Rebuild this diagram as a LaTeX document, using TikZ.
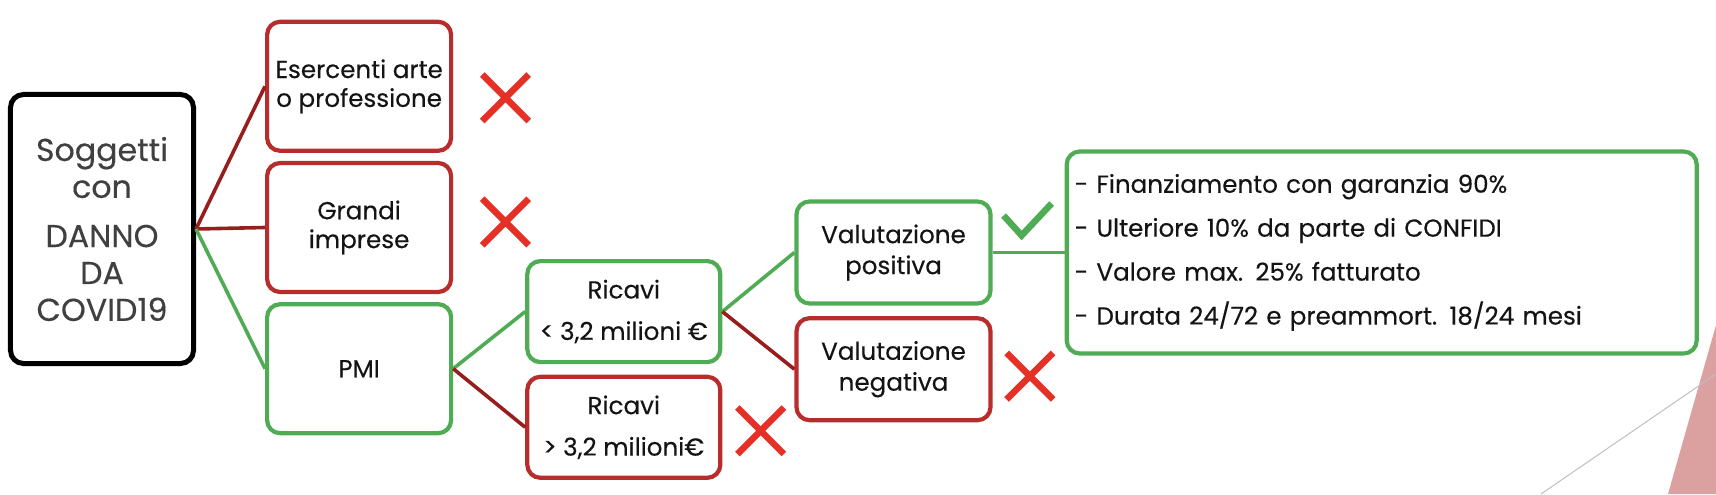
\documentclass[tikz,border=0pt]{standalone}
\usepackage{fontspec}
\setmainfont{Poppins}[FakeBold=0.3]
\usepackage{xcolor}
\usepackage{tikz}
\usetikzlibrary{positioning, shapes.misc}

\definecolor{noRed}{RGB}{184,44,44}
\definecolor{noLink}{RGB}{152,30,30}
\definecolor{okGreen}{RGB}{80,172,84}
\definecolor{markRed}{RGB}{228,48,38}
\definecolor{deckPink}{RGB}{219,160,160}

\begin{document}
\begin{tikzpicture}[
    x=1mm, y=1mm,
    base/.style={draw, rectangle, rounded corners=1.3mm, align=center, text=black!92, inner sep=0.5mm},
    rootBox/.style={base, draw=black, line width=0.5mm, minimum width=18.3mm, minimum height=26.9mm, font=\fontsize{9pt}{10.5pt}\selectfont, text=black!75},
    catBox/.style={base, line width=0.42mm, minimum width=18.4mm, minimum height=12.9mm, font=\fontsize{7pt}{8.2pt}\selectfont},
    subBox/.style={base, line width=0.42mm, minimum width=19.3mm, minimum height=10.1mm, font=\fontsize{7pt}{11.8pt}\selectfont},
    evalBox/.style={base, line width=0.42mm, minimum width=19.4mm, minimum height=10.2mm, font=\fontsize{7pt}{8.8pt}\selectfont},
    noBox/.style={draw=noRed},
    okBox/.style={draw=okGreen},
    infoBox/.style={base, draw=okGreen, line width=0.42mm, text width=61.4mm, inner sep=0.8mm, minimum height=20.2mm, align=left, font=\fontsize{7pt}{12.5pt}\selectfont},
    noLine/.style={draw=noLink, line width=0.36mm},
    okLine/.style={draw=okGreen, line width=0.36mm},
    noMark/.style={draw=markRed, cross out, line width=0.65mm, minimum size=4mm, inner sep=0pt},
    okMark/.style={draw=okGreen, line width=0.65mm}
]
    \useasboundingbox (0,0) rectangle (171.6,-49.4);

    % Slide decoration
    \fill[deckPink] (171.6,-32.5) -- (171.6,-49.4) -- (166.8,-49.4) -- cycle;
    \draw[black!25, line width=0.1mm] (154.1,-49.4) -- (171.6,-37.4);

    % Nodes
    \node[rootBox] (root) at (10.2,-22.9) {Soggetti\\con\\[3.5pt]DANNO\\DA\\COVID19};
    \node[catBox, noBox, right=6.9mm of root, yshift=0.15mm] (grandi) {Grandi\\imprese};
    \node[catBox, noBox, above=0.8mm of grandi] (esercenti) {Esercenti arte\\o professione};
    \node[catBox, okBox, below=0.8mm of grandi] (pmi) {PMI};
    \node[subBox, okBox, above right=0.45mm and 7.2mm of pmi.east] (ricaviLow) {Ricavi\\< 3,2 milioni €};
    \node[subBox, noBox, below right=0.6mm and 7.2mm of pmi.east] (ricaviHigh) {Ricavi\\> 3,2 milioni€};
    \node[evalBox, okBox, above right=0.6mm and 7.2mm of ricaviLow.east] (valPos) {Valutazione\\positiva};
    \node[evalBox, noBox, below right=0.45mm and 7.2mm of ricaviLow.east] (valNeg) {Valutazione\\negativa};
    \node[infoBox, right=7.2mm of valPos] (details) {- Finanziamento con garanzia 90\%\\- Ulteriore 10\% da parte di CONFIDI\\- Valore max. 25\% fatturato\\- Durata 24/72 e preammort. 18/24 mesi};

    % Marks
    \node[noMark, right=2.9mm of esercenti, yshift=-1.15mm] (noEsercenti) {};
    \node[noMark, right=2.9mm of grandi, yshift=0.55mm] (noGrandi) {};
    \node[noMark, right=1.5mm of ricaviHigh, yshift=-0.35mm] (noRicavi) {};
    \node[noMark, right=1.4mm of valNeg, yshift=-0.7mm] (noValNeg) {};
    \draw[okMark] ([shift={(1.1,3.7)}]valPos.east) -- ++(1.8,-2) -- ++(3,3.2);

    % Connections
    \draw[noLine] (root.east) -- (esercenti.west);
    \draw[noLine] (root.east) -- (grandi.west);
    \draw[okLine] (root.east) -- (pmi.west);
    \draw[okLine] (pmi.east) -- (ricaviLow.west);
    \draw[noLine] (pmi.east) -- (ricaviHigh.west);
    \draw[okLine] (ricaviLow.east) -- (valPos.west);
    \draw[noLine] (ricaviLow.east) -- (valNeg.west);
    \draw[okLine] (valPos.east) -- (details.west);

\end{tikzpicture}
\end{document}
